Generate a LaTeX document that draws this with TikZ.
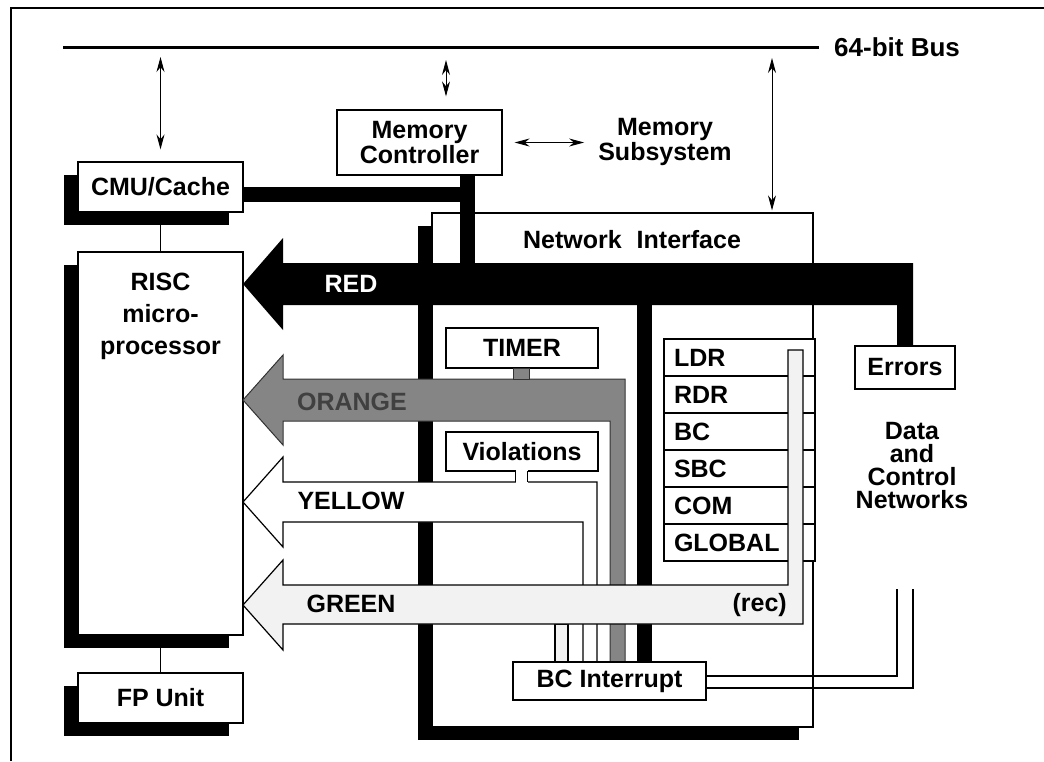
\documentclass[tikz,border=0pt]{standalone}
\usepackage{fontspec}
\setmainfont{Liberation Sans}
\usetikzlibrary{arrows.meta,shadows}
\begin{document}
\begin{tikzpicture}[x=1pt,y=-1pt,
  every node/.style={font=\fontsize{25}{22}\selectfont\bfseries, inner sep=0pt, align=center},
  box/.style={draw, line width=1.2pt, fill=white},
  shbox/.style={box, drop shadow={shadow xshift=-14pt, shadow yshift=-13pt, fill=black, opacity=1}},
  reg/.style={draw, line width=1.2pt, fill=white, minimum width=151pt, minimum height=37pt},
  dbl/.style={line width=0.9pt, {Stealth[length=15pt,width=8pt]}-{Stealth[length=15pt,width=8pt]}},
  thinline/.style={line width=1.2pt},
  orangefill/.style={fill=black!48},
  greenfill/.style={fill=black!5}]
\useasboundingbox (0,0) rectangle (1044,761);
% frame
\draw[line width=1.5pt] (11,761) -- (11,8) -- (1044,8);
% bus
\draw[line width=3pt] (63,47) -- (819,47);
\node[anchor=west, font=\fontsize{26}{22}\selectfont\bfseries] (bus) at (834,47) {64-bit Bus};
\coordinate (bA) at (160.5,47);
\coordinate (bB) at (446,47);
\coordinate (bC) at (772,47);
% boxes
\node[box, minimum width=165pt, minimum height=65pt] (mc) at (419.5,142.5) {Memory\\Controller};
\node (ms) at (665,142) {Memory\\Subsystem};
\node[shbox, minimum width=165pt, minimum height=50pt] (cmu) at (160.5,187) {CMU/Cache};
\node[shbox, minimum width=165pt, minimum height=383pt] (risc) at (160.5,443.5) {};
\node[font=\fontsize{25}{32}\selectfont\bfseries] (risclabel) at (160.5,316) {RISC\\micro-\\processor};
\node[shbox, minimum width=165pt, minimum height=50pt] (fp) at (160.5,698) {FP Unit};
\draw[thinline] (cmu) -- (risc);
\draw[thinline] (risc) -- (fp);
% bus arrows
\draw[dbl, shorten <=10pt, shorten >=12pt] (bA) -- (cmu.north);
\draw[dbl, shorten <=13pt, shorten >=13pt] (bB) -- (bB |- mc.north);
\draw[dbl, shorten <=12pt, shorten >=14pt] (mc.east) -- (ms.west |- mc.east);
% network interface
\node[shbox, minimum width=381pt, minimum height=514pt] (ni) at (622.5,470) {};
\node (nilabel) at (632,240) {Network\hspace{0.6em}Interface};
\draw[dbl, shorten <=11pt, shorten >=2pt] (bC) -- (bC |- ni.north);
% CMU / memory controller bars
\fill (243,187) rectangle (475,202);
\fill (460,175) rectangle (475,263);
% registers
\node[reg] (ldr) at (739.5,357.5) {\makebox[131pt][l]{LDR}};
\node[reg] (rdr) at (739.5,394.5) {\makebox[131pt][l]{RDR}};
\node[reg] (bc) at (739.5,431.5) {\makebox[131pt][l]{BC}};
\node[reg] (sbc) at (739.5,468.5) {\makebox[131pt][l]{SBC}};
\node[reg] (com) at (739.5,505.5) {\makebox[131pt][l]{COM}};
\node[reg] (global) at (739.5,542.5) {\makebox[131pt][l]{GLOBAL}};
% timer and violations
\node[box, minimum width=152pt, minimum height=40pt] (timer) at (522,348) {TIMER};
\node[box, minimum width=152pt, minimum height=39pt] (viol) at (522,451.5) {Violations};
% red pipe down
\fill (637,305) rectangle (652,662);
% orange
\filldraw[orangefill, draw=black!80, line width=1pt]
  (243,400) -- (283,355) -- (283,379) -- (625,379) -- (625,662) -- (610,662)
  -- (610,421) -- (283,421) -- (283,445) -- cycle;
\filldraw[orangefill, draw=black!80, line width=1pt] (513,368) rectangle (529,379.6);
\node[text=black!75] (orangelabel) at (352,402) {ORANGE};
% yellow
\filldraw[fill=white, draw=black, line width=1.2pt]
  (243,502) -- (283,457) -- (283,482) -- (597,482) -- (597,662) -- (583,662)
  -- (583,522) -- (283,522) -- (283,547) -- cycle;
\fill[white] (515.5,470) rectangle (527.5,483.3);
\draw[thinline] (515.5,471) -- (515.5,482) (527.5,471) -- (527.5,482);
\node (yellowlabel) at (351,501) {YELLOW};
% red
\fill (243,284) -- (283,238) -- (283,263) -- (913,263) -- (913,346) -- (897,346)
  -- (897,305) -- (283,305) -- (283,330) -- cycle;
\node[text=white] (redlabel) at (351,284) {RED};
% errors
\node[box, minimum width=100pt, minimum height=43pt] (errors) at (905,367.5) {Errors};
\node[font=\fontsize{25}{23}\selectfont\bfseries] (dcn) at (912,466) {Data\\and\\Control\\Networks};
% green
\filldraw[greenfill, draw=black, line width=1.2pt] (555,624) rectangle (568,662);
\filldraw[greenfill, draw=black, line width=1.2pt]
  (243,605) -- (283,560) -- (283,585) -- (788,585) -- (788,350) -- (803,350)
  -- (803,624) -- (283,624) -- (283,650) -- cycle;
\node (greenlabel) at (351,604) {GREEN};
\node[anchor=east] (rec) at (787,605) {(rec)};
% BC interrupt
\node[box, minimum width=193pt, minimum height=38pt] (bci) at (609.5,681) {BC Interrupt};
\draw[thinline] (bci.east |- 0,676) -| (897,589);
\draw[thinline] (bci.east |- 0,688) -| (913,589);
\end{tikzpicture}
\end{document}
